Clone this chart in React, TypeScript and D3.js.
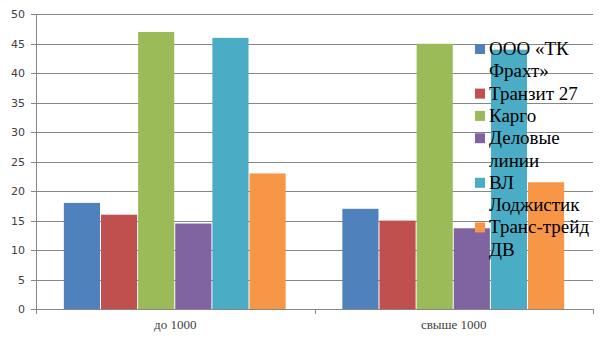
import React from "react";
import * as d3 from "d3";

const categories = ["до 1000", "свыше 1000"];
const seriesNames = ["ООО «ТК Фрахт»", "Транзит 27", "Карго", "Деловые линии", "ВЛ Лоджистик", "Транс-трейд ДВ"];
const legendLines = [["ООО «ТК", "Фрахт»"], ["Транзит 27"], ["Карго"], ["Деловые", "линии"], ["ВЛ", "Лоджистик"], ["Транс-трейд", "ДВ"]];
const colors = ["#4F81BD", "#C0504D", "#9BBB59", "#8064A2", "#4BACC6", "#F79646"];
const valuesUpTo1000 = [18, 16, 47, 14.5, 46, 23];
const valuesOver1000 = [17, 15, 45, 13.7, 44, 21.5];
const yTicks = [0, 5, 10, 15, 20, 25, 30, 35, 40, 45, 50];

const W = 605, H = 340;
const left = 36, right = 593, top = 14.3, bottom = 309;

export default function App() {
  const data = [valuesUpTo1000, valuesOver1000];
  const x = d3.scaleBand<string>().domain(categories).range([left, right]).paddingInner(0).paddingOuter(0);
  const xs = d3.scaleBand<string>().domain(seriesNames).range([0, x.bandwidth()]).paddingInner(0).paddingOuter(0.75);
  const y = d3.scaleLinear().domain([0, 50]).range([bottom, top]);
  const grid = "#868686";
  const catTicks = [left, ...categories.map((c) => (x(c) as number) + x.bandwidth())];

  let line = 0;
  const lineH = 22.3;
  const legendItems = legendLines.map((ls, i) => {
    const start = line;
    line += ls.length;
    return { ls, i, start };
  });

  return (
    <svg width={W} height={H} style={{ position: "absolute", left: 0, top: 0, background: "#fff" }}>
      {yTicks.map((t) => (
        <g key={t}>
          <line x1={left - 5} x2={right} y1={Math.round(y(t)) + 0.5} y2={Math.round(y(t)) + 0.5} stroke={grid} strokeWidth={1} />
          <text x={25} y={y(t) + 4} textAnchor="end" fontFamily="'DejaVu Sans', sans-serif" fontSize={11} fill="#404040">{t}</text>
        </g>
      ))}
      <line x1={left + 0.5} x2={left + 0.5} y1={top} y2={bottom + 5} stroke={grid} />
      {catTicks.slice(1).map((cx, i) => (
        <line key={i} x1={Math.round(cx) + 0.5} x2={Math.round(cx) + 0.5} y1={bottom} y2={bottom + 5} stroke={grid} />
      ))}
      {categories.map((c, ci) => (
        <g key={c}>
          {data[ci].map((v, si) => (
            <rect
              key={si}
              x={(x(c) as number) + (xs(seriesNames[si]) as number)}
              y={y(v)}
              width={xs.bandwidth() - 1}
              height={bottom - y(v)}
              fill={colors[si]}
            />
          ))}
          <text x={(x(c) as number) + x.bandwidth() / 2} y={329} textAnchor="middle" fontFamily="'Liberation Serif', serif" fontSize={13} fill="#404040">{c}</text>
        </g>
      ))}
      {legendItems.map(({ ls, i, start }) => (
        <g key={i}>
          <rect x={475} y={55 + start * lineH - 11} width={10} height={10} fill={colors[i]} />
          {ls.map((t, k) => (
            <text key={k} x={489} y={55 + (start + k) * lineH} fontFamily="'Liberation Serif', serif" fontSize={19} fill="#000">{t}</text>
          ))}
        </g>
      ))}
    </svg>
  );
}
